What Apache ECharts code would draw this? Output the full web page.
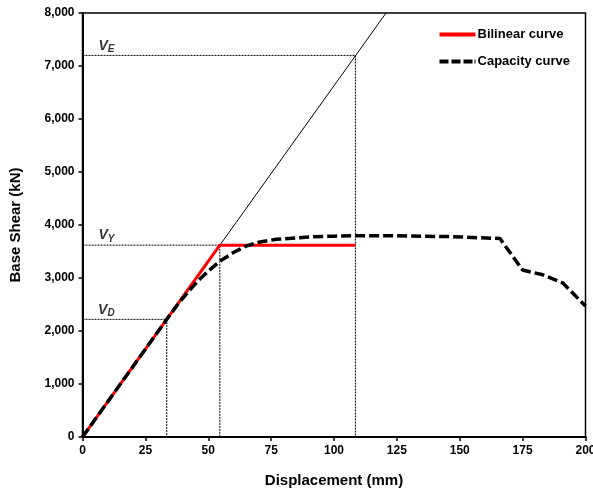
<!DOCTYPE html>
<html><head><meta charset="utf-8">
<script src="https://cdn.jsdelivr.net/npm/echarts@6/dist/echarts.min.js"></script>
<style>html,body{margin:0;padding:0;background:#fff}#c{width:593px;height:494px}</style>
</head><body><div id="c"></div>
<script>
// Data
const bilinear = [[0,0],[54.6,3620],[108.5,3620]];
const capacity = [[0,0],[10,663],[20,1326],[33.5,2220],[38,2510],[42,2740],[46,2950],[50,3130],[55,3330],[60,3480],[65,3600],[70,3675],[77,3730],[90,3775],[100,3790],[108.5,3798],[125,3795],[147,3780],[166,3745],[175,3150],[183,3060],[191,2905],[200,2470]];
const elastic = [[0,0],[120.7,8000]];
const refDisp = [33.5, 54.6, 108.5];
const refShear = [2220, 3620, 7200];
const refNames = ['D','Y','E'];

const font = 'Liberation Sans, Arial, sans-serif';
const refSeries = [];
refDisp.forEach((d,i)=>{
  refSeries.push({type:'line', data:[[0,refShear[i]],[d,refShear[i]],[d,0]], symbol:'none', silent:true,
    lineStyle:{color:'#000', width:1, type:[2,1]}, z:1});
});
const labelData = refShear.map((v,i)=>({value:[9.5,v], name:refNames[i]}));

const chart = echarts.init(document.getElementById('c'));
chart.setOption({
  animation:false,
  grid:{left:82.5, right:7.5, top:13, bottom:57, outerBoundsMode:'none', containLabel:false,
    show:true, borderColor:'#000', borderWidth:1.5, backgroundColor:'transparent'},
  legend:{
    data:[{name:'Bilinear curve', icon:'path://M0,0H36V4H0Z'},
          {name:'Capacity curve', icon:'path://M0,0H9V4H0Z M12,0H21V4H12Z M24,0H33V4H24Z M35,0H36V4H35Z'}],
    orient:'vertical', right:18, top:23, itemWidth:36, itemHeight:4, itemGap:14,
    textStyle:{fontFamily:font, fontWeight:'bold', fontSize:13, color:'#000', padding:[0,0,0,-3]}
  },
  xAxis:{type:'value', min:0, max:200, interval:25, name:'Displacement (mm)', nameLocation:'middle', nameGap:36,
    nameTextStyle:{fontFamily:font, fontWeight:'bold', fontSize:15, color:'#000'},
    axisLine:{lineStyle:{color:'#000', width:2}}, axisTick:{show:true, length:4, lineStyle:{color:'#000', width:1.5}},
    axisLabel:{fontFamily:font, fontWeight:'bold', fontSize:12, color:'#000', margin:8, showMaxLabel:true},
    splitLine:{show:false}},
  yAxis:{type:'value', min:0, max:8000, interval:1000, name:'Base Shear (kN)', nameLocation:'middle', nameGap:59,
    nameTextStyle:{fontFamily:font, fontWeight:'bold', fontSize:15, color:'#000'},
    axisLine:{show:true, lineStyle:{color:'#000', width:2}}, axisTick:{show:true, length:4, lineStyle:{color:'#000', width:1.5}},
    axisLabel:{fontFamily:font, fontWeight:'bold', fontSize:12, color:'#000', margin:8,
      formatter:v=>v.toLocaleString('en-US')},
    splitLine:{show:false}},
  series:[
    ...refSeries,
    {type:'line', data:elastic, symbol:'none', silent:true, lineStyle:{color:'#000', width:1}, z:2},
    {name:'Bilinear curve', type:'line', data:bilinear, symbol:'none',
      lineStyle:{color:'#ff0000', width:3}, itemStyle:{color:'#ff0000'}, z:3},
    {name:'Capacity curve', type:'line', data:capacity, symbol:'none',
      lineStyle:{color:'#000', width:3.5, type:[10,4]}, itemStyle:{color:'#000'}, z:4},
    {type:'scatter', data:labelData, symbolSize:0, silent:true, z:5,
      label:{show:true, position:'top', distance:1, fontFamily:font,
        formatter:p=>'{v|V}{s|'+p.name+'}',
        rich:{v:{fontStyle:'italic', fontSize:14, fontFamily:font, color:'#000', fontWeight:'bold'},
              s:{fontStyle:'italic', fontSize:10, fontFamily:font, color:'#000', fontWeight:'bold', verticalAlign:'bottom', padding:[7,0,0,0]}}}}
  ]
});
</script></body></html>
